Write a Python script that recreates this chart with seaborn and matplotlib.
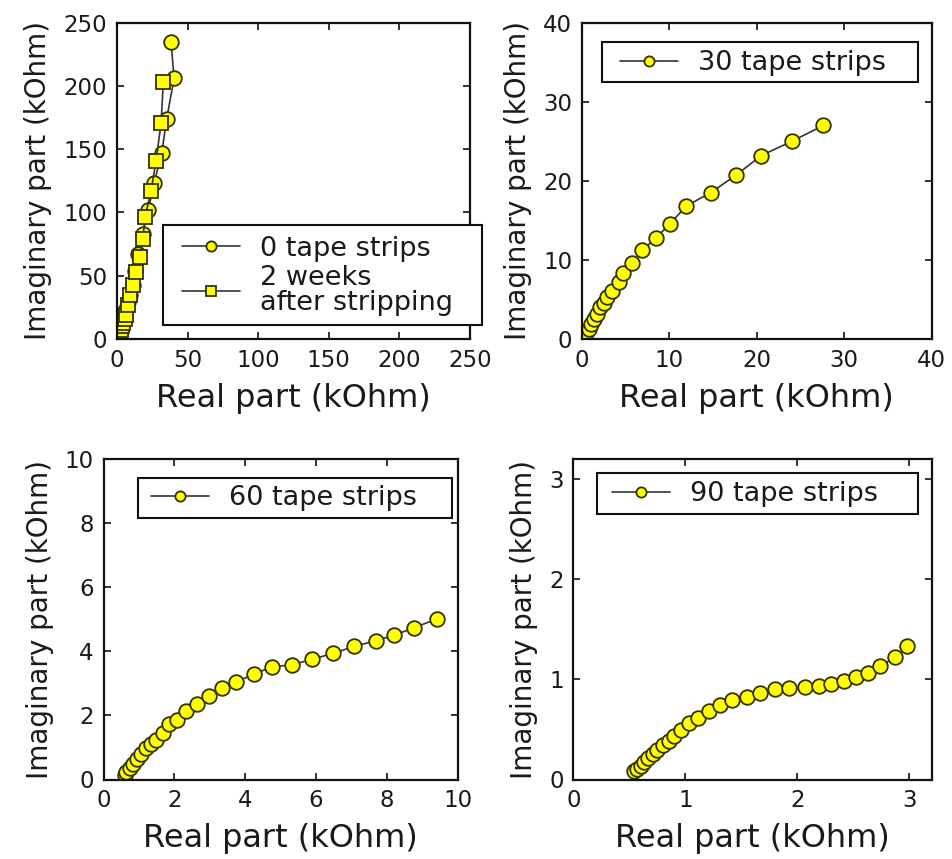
import matplotlib
matplotlib.use("Agg")
import matplotlib.pyplot as plt
from matplotlib.patches import Rectangle
import seaborn as sns
import pandas as pd

# ---- data (kOhm) ----
p1_c_x = [0.3, 0.6, 1.0, 1.5, 2.0, 2.7, 3.5, 4.4, 5.4, 6.5, 7.8, 9.3, 11.0, 13.0, 15.1, 18.2, 22.2, 26.2, 31.7, 35.2, 40.4, 38.3]
p1_c_y = [0.5, 1.5, 3, 4.5, 6.5, 9, 12, 15.5, 19.5, 24, 29, 35, 43, 54, 67.5, 83, 102, 123, 147, 174, 206, 235]
p1_s_x = [0.2, 0.5, 1.0, 1.6, 2.5, 3.5, 4.5, 5.5, 6.4, 8.0, 9.2, 11.1, 13.5, 16.3, 18.2, 19.9, 24.1, 27.7, 31.2, 32.8]
p1_s_y = [0.5, 1.5, 3, 5, 7.5, 10, 13, 16, 19, 27, 35, 42.6, 53, 65, 79, 96.5, 117, 141, 170.6, 203]

p2_x = [0.27, 0.5, 0.76, 1.03, 1.33, 1.7, 2.1, 2.48, 2.86, 3.43, 4.19, 4.65, 5.75, 6.9, 8.46, 10.1, 11.9, 14.7, 17.6, 20.5, 24.0, 27.6]
p2_y = [0.42, 0.76, 1.26, 1.9, 2.5, 3.2, 4.0, 4.6, 5.3, 6.1, 7.2, 8.3, 9.6, 11.2, 12.8, 14.6, 16.8, 18.5, 20.7, 23.2, 25.0, 27.0]

p3_x = [0.6, 0.64, 0.74, 0.83, 0.94, 1.07, 1.21, 1.35, 1.49, 1.68, 1.84, 2.08, 2.32, 2.64, 2.98, 3.34, 3.75, 4.25, 4.76, 5.32, 5.9, 6.49, 7.08, 7.68, 8.19, 8.77, 9.42]
p3_y = [0.15, 0.23, 0.37, 0.49, 0.65, 0.81, 0.97, 1.1, 1.23, 1.44, 1.72, 1.85, 2.13, 2.37, 2.61, 2.85, 3.05, 3.29, 3.52, 3.58, 3.76, 3.94, 4.16, 4.33, 4.5, 4.74, 5.02]

p4_x = [0.54, 0.57, 0.60, 0.63, 0.67, 0.71, 0.75, 0.80, 0.85, 0.90, 0.96, 1.03, 1.11, 1.21, 1.31, 1.42, 1.55, 1.67, 1.80, 1.93, 2.07, 2.19, 2.30, 2.42, 2.52, 2.63, 2.74, 2.87, 2.98]
p4_y = [0.085, 0.10, 0.13, 0.17, 0.21, 0.25, 0.29, 0.34, 0.38, 0.43, 0.49, 0.56, 0.61, 0.68, 0.74, 0.79, 0.82, 0.86, 0.90, 0.915, 0.92, 0.93, 0.95, 0.98, 1.02, 1.06, 1.13, 1.22, 1.33]

labels = ["0 tape strips", "2 weeks\nafter stripping", "30 tape strips", "60 tape strips", "90 tape strips"]
xlabel = "Real part (kOhm)"
ylabel = "Imaginary part (kOhm)"

sns.set_theme(style="ticks")
plt.rcParams["font.family"] = ["DejaVu Sans"]
plt.rcParams["text.color"] = "#1a1a1a"
plt.rcParams["axes.labelcolor"] = "#1a1a1a"

W, H = 952, 859
fig = plt.figure(figsize=(W / 100, H / 100), dpi=100)

def rect(l, r, t, b):
    return [l / W, 1 - b / H, (r - l) / W, (b - t) / H]

ax1 = fig.add_axes(rect(117, 470, 22.7, 339))
ax2 = fig.add_axes(rect(582, 931.7, 22.7, 339))
ax3 = fig.add_axes(rect(103.5, 457.7, 459.3, 779.5))
ax4 = fig.add_axes(rect(573.3, 931.7, 459.3, 779.5))

YEL = "#ffff00"
EDGE = "#333300"
mk = dict(markersize=10.5, markerfacecolor=YEL, markeredgecolor=EDGE, markeredgewidth=1.3,
          color="#333333", linewidth=1.2)

def draw(ax, xs, ys, lab, marker):
    df = pd.DataFrame({"x": xs, "y": ys})
    sns.lineplot(data=df, x="x", y="y", sort=False, estimator=None, ax=ax,
                 marker=marker, label=lab, **mk)

draw(ax1, p1_c_x, p1_c_y, labels[0], "o")
draw(ax1, p1_s_x, p1_s_y, labels[1], "s")
draw(ax2, p2_x, p2_y, labels[2], "o")
draw(ax3, p3_x, p3_y, labels[3], "o")
draw(ax4, p4_x, p4_y, labels[4], "o")

ax1.set_xlim(0, 250); ax1.set_ylim(0, 250)
ax1.set_xticks([0, 50, 100, 150, 200, 250]); ax1.set_yticks([0, 50, 100, 150, 200, 250])
ax2.set_xlim(0, 40); ax2.set_ylim(0, 40)
ax2.set_xticks([0, 10, 20, 30, 40]); ax2.set_yticks([0, 10, 20, 30, 40])
ax3.set_xlim(0, 10); ax3.set_ylim(0, 10)
ax3.set_xticks([0, 2, 4, 6, 8, 10]); ax3.set_yticks([0, 2, 4, 6, 8, 10])
ax4.set_xlim(0, 3.2); ax4.set_ylim(0, 3.2)
ax4.set_xticks([0, 1, 2, 3]); ax4.set_yticks([0, 1, 2, 3])

for ax in (ax1, ax2, ax3, ax4):
    for s in ax.spines.values():
        s.set_visible(True)
        s.set_linewidth(1.6)
        s.set_color("#111111")
    ax.tick_params(direction="in", top=True, right=True, length=5, width=1.2,
                   labelsize=16.5, colors="#111111", labelcolor="#1a1a1a", pad=7)
    ax.set_xlabel(xlabel, fontsize=23, labelpad=8)
    ax.set_ylabel(ylabel, fontsize=20, labelpad=8)

# legends: a framed box (pixel bounds) with a frameless legend placed inside
def leg(ax, box, hx, cy):
    l, r, t, b = box
    fig.add_artist(Rectangle((l / W, 1 - b / H), (r - l) / W, (b - t) / H,
                             transform=fig.transFigure, facecolor="white",
                             edgecolor="#111111", linewidth=1.5, zorder=5))
    handles, labs = ax.get_legend_handles_labels()
    ax.get_legend().remove()
    lg = fig.legend(handles, labs, loc="center left", bbox_to_anchor=(hx / W, 1 - cy / H),
                    frameon=False, fontsize=19.5, borderpad=0, borderaxespad=0,
                    handlelength=2.15, handletextpad=0.72, labelspacing=0.12,
                    markerscale=0.7)
    lg.set_zorder(6)
    for tx in lg.get_texts():
        tx.set_linespacing(0.95)

leg(ax1, (163, 482, 225, 325), 182, 276)
leg(ax2, (602, 918, 42, 82), 620, 63)
leg(ax3, (138, 452, 478, 518), 151, 498)
leg(ax4, (597, 918, 473, 514), 612, 494)

fig.savefig("out.png", dpi=100)
